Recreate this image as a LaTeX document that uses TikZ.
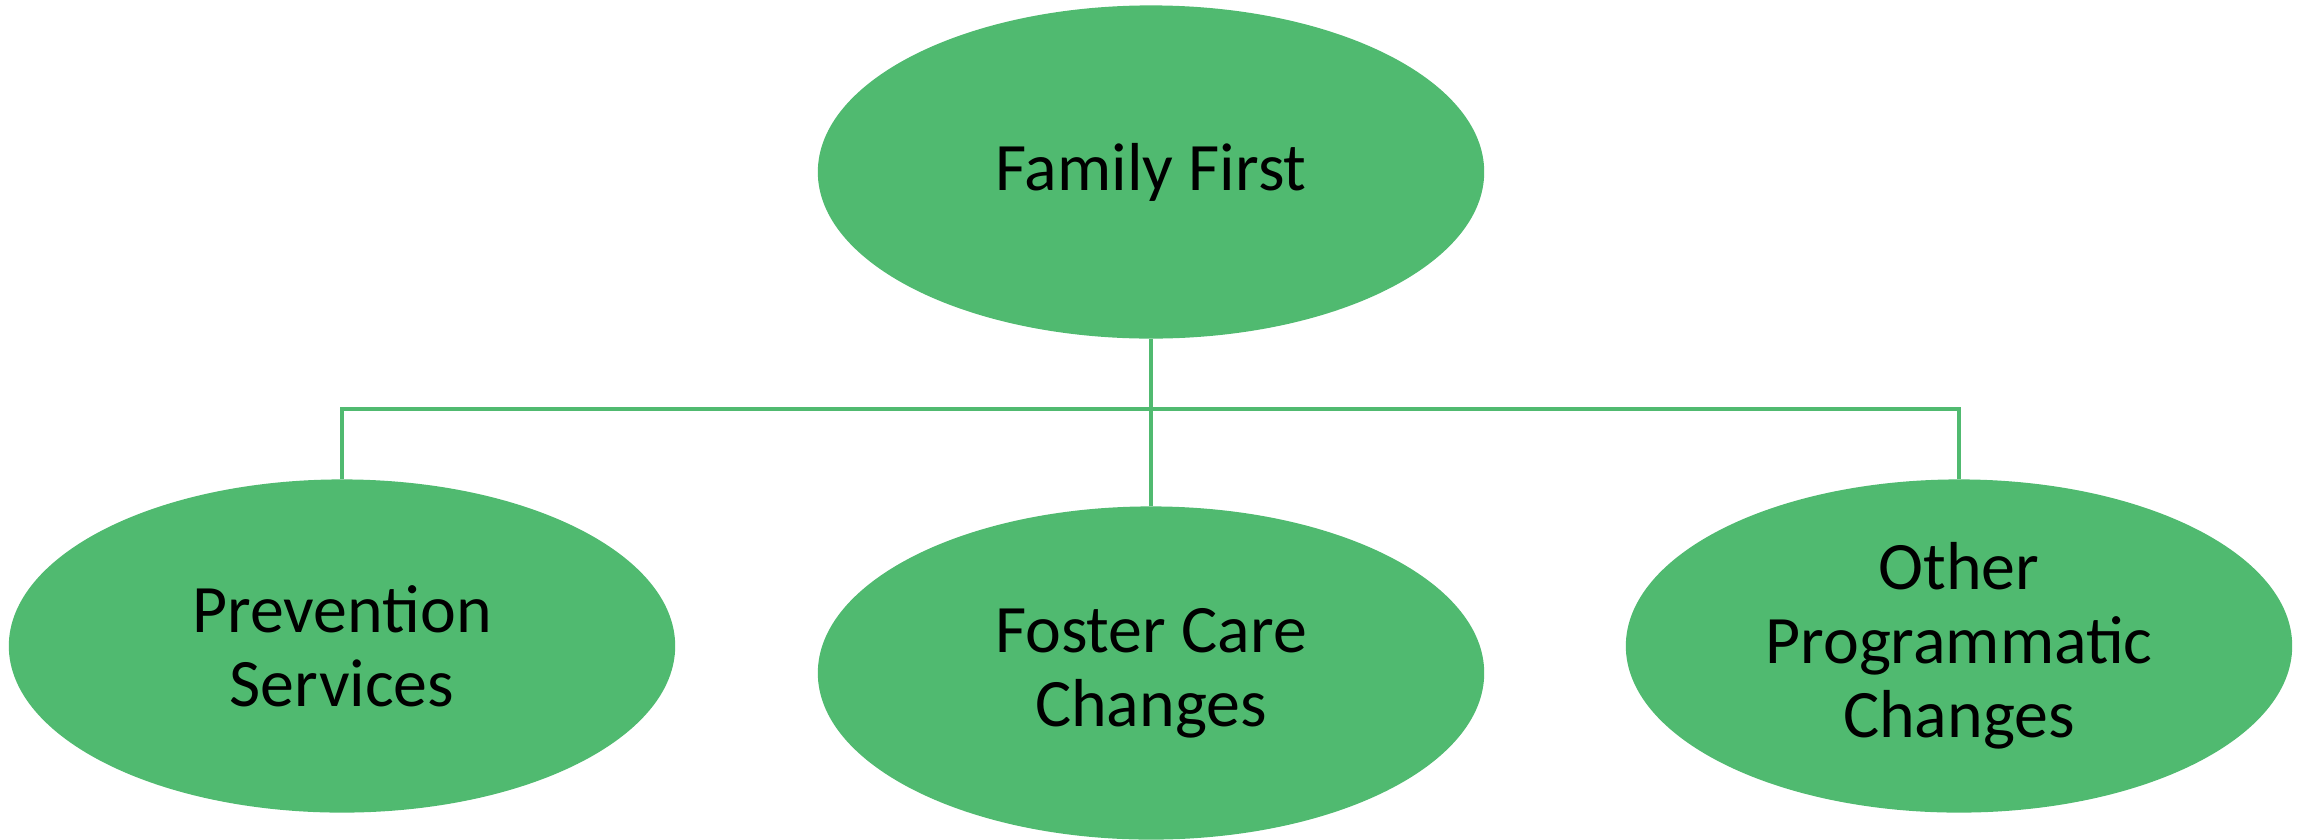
\documentclass[tikz,border=0pt]{standalone}
\usepackage{fontspec}
\setmainfont{Carlito}
\usetikzlibrary{shapes.geometric}
\definecolor{leafgreen}{RGB}{80,186,112}
\newcommand{\pixelsize}{0.01cm}
\tikzset{
	bubble/.style={ellipse, fill=leafgreen, inner sep=0pt, minimum width=6.66cm, minimum height=3.33cm, align=center, font=\fontsize{19.3}{21}\selectfont},
	link/.style={draw=leafgreen, line width=1pt}
}

\begin{document}
\begin{tikzpicture}[x=\pixelsize,y=-\pixelsize]
	\useasboundingbox (0,0) rectangle (2310,839);

	\node [bubble] (family) at (1151,172) {Family First};
	\node [bubble] (prevention) at (342,646) {Prevention\\Services};
	\node [bubble] (foster) at (1151,673) {Foster Care\\Changes};
	\node [bubble] (other) at (1959,646) {Other\\Programmatic\\Changes};

	\coordinate (bus) at (0,409);

	\draw [link] (family.south) -- (family.south |- bus) -| (prevention.north);
	\draw [link] (family.south) -- (family.south |- bus) -| (other.north);
	\draw [link] (family.south) -- (foster.north);

\end{tikzpicture}
\end{document}
